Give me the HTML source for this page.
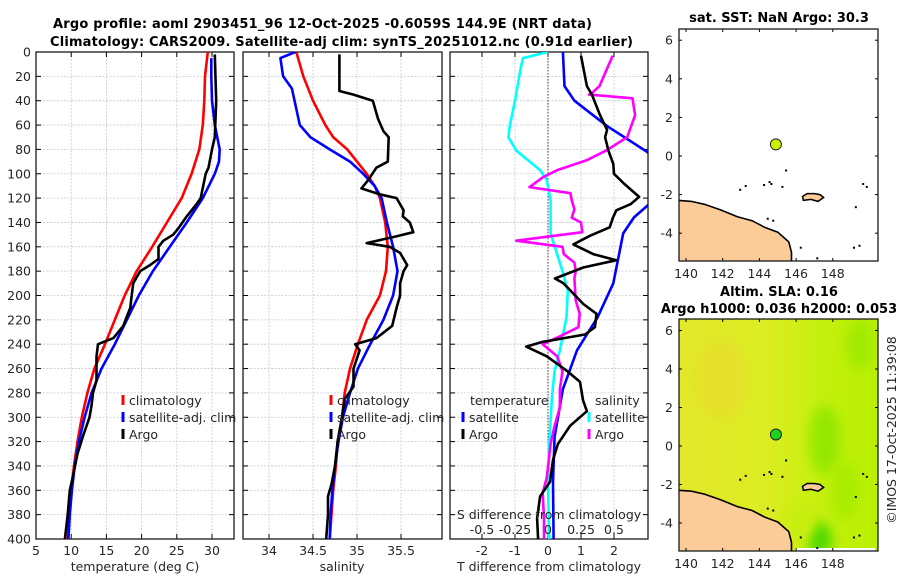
<!DOCTYPE html>
<html><head><meta charset="utf-8"><style>
body{margin:0;background:#fff;}
svg{display:block;font-family:"DejaVu Sans","Liberation Sans",sans-serif;}
.t{font-size:12.5px;fill:#262626;}
.b{font-weight:bold;font-size:13px;fill:#000;}
</style></head><body>
<svg id="fig" width="900" height="580" viewBox="0 0 900 580" xmlns="http://www.w3.org/2000/svg">
<defs>
<clipPath id="c1"><rect x="36" y="52" width="198" height="487"/></clipPath>
<clipPath id="c2"><rect x="243" y="52" width="199" height="487"/></clipPath>
<clipPath id="c3"><rect x="450" y="52" width="198" height="487"/></clipPath>
<clipPath id="cm1"><rect x="679" y="29" width="199" height="232"/></clipPath>
<clipPath id="cm2"><rect x="679" y="319" width="199" height="232"/></clipPath>
<filter id="blur" x="-50%" y="-50%" width="200%" height="200%"><feGaussianBlur stdDeviation="6"/></filter>
<linearGradient id="sla" x1="0" x2="1" y1="0" y2="0"><stop offset="0" stop-color="#e2e82a"/><stop offset="0.45" stop-color="#dcec22"/><stop offset="0.7" stop-color="#c6f00e"/><stop offset="1" stop-color="#b8f000"/></linearGradient>
</defs>
<g id="titles">
<text class="b" x="53" y="28" textLength="539" lengthAdjust="spacing">Argo profile: aoml 2903451_96 12-Oct-2025 -0.6059S 144.9E (NRT data)</text>
<text class="b" x="50" y="46" textLength="583" lengthAdjust="spacing">Climatology: CARS2009. Satellite-adj clim: synTS_20251012.nc (0.91d earlier)</text>
<text class="b" x="779" y="22" text-anchor="middle">sat. SST: NaN Argo: 30.3</text>
<text class="b" x="779" y="296" text-anchor="middle">Altim. SLA: 0.16</text>
<text class="b" x="779" y="313" text-anchor="middle">Argo h1000: 0.036 h2000: 0.053</text>
<text class="t" transform="translate(896,430) rotate(-90)" text-anchor="middle">©IMOS 17-Oct-2025 11:39:08</text>
</g>
<g id="axes"></g>
<g id="series"></g>
<g id="maps"></g>
</svg>
<script>
// ---- data ----
const depthTicks = [0,20,40,60,80,100,120,140,160,180,200,220,240,260,280,300,320,340,360,380,400];
const tempTicks = [5,10,15,20,25,30];
const salTicks = [34,34.5,35,35.5];
const tdiffTicks = [-2,-1,0,1,2];
const sdiffTicks = [-0.5,-0.25,0,0.25,0.5];
const sdiffTickLabels = ["-0.5","-0.25","0","0.25","0.5"];
const latTicks = [-4,-2,0,2,4,6];
const lonTicks = [140,142,144,146,148];

const climTdepth = [0,20,40,60,80,100,120,140,160,180,200,220,240,260,280,300,320,340,360,380,400];
const climT = [29.4,29.0,28.9,28.7,28.2,27.1,25.7,23.6,21.5,19.3,17.6,16.2,14.8,13.3,12.3,11.5,10.9,10.4,10.0,9.7,9.5];
const satTdepth = [5,20,40,60,80,90,100,120,140,160,180,200,220,240,260,280,300,320,340,360,380,400];
const satT = [29.9,29.9,30.0,30.4,31.1,31.0,30.4,28.7,26.4,24.0,21.6,19.6,17.9,16.2,14.3,12.9,11.9,11.1,10.5,10.1,9.8,9.6];
const argoTdepth = [2,40,70,80,95,100,120,125,135,145,150,155,160,170,175,180,190,200,210,225,235,240,250,270,280,290,300,315,330,350,360,380,400];
const argoT = [30.4,30.6,30.4,30.0,29.5,29.1,28.4,27.8,26.4,25.2,24.5,23.1,22.4,22.4,21.2,19.8,18.8,18.6,18.4,17.4,16.0,13.8,13.6,13.6,13.1,12.9,12.6,11.7,10.9,10.2,9.8,9.5,9.1];

const climSdepth = [0,20,40,60,70,80,90,100,110,120,140,160,180,200,220,240,260,280,300,320,340,360,380,400];
const climS = [34.31,34.39,34.5,34.64,34.73,34.89,35.0,35.11,35.2,35.26,35.32,35.35,35.33,35.26,35.11,35.01,34.92,34.86,34.83,34.78,34.76,34.73,34.71,34.69];
const satSdepth = [0,5,20,30,60,70,80,90,100,110,120,140,160,180,200,220,240,260,280,300,320,340,360,380,400];
const satS = [34.3,34.13,34.16,34.26,34.35,34.47,34.69,34.92,35.07,35.2,35.28,35.34,35.41,35.46,35.41,35.3,35.15,35.01,34.92,34.84,34.79,34.75,34.72,34.7,34.69];
const argoSdepth = [2,32,35,40,55,65,70,90,95,105,112,117,120,130,135,140,148,152,157,160,165,175,180,190,200,210,225,235,240,245,260,275,285,300,320,340,355,365,380,400];
const argoS = [34.8,34.8,34.96,35.18,35.24,35.3,35.36,35.35,35.22,35.13,35.05,35.26,35.45,35.53,35.52,35.6,35.64,35.41,35.11,35.37,35.49,35.57,35.53,35.49,35.49,35.45,35.4,35.22,34.98,35.03,34.96,34.96,34.86,34.83,34.78,34.75,34.71,34.67,34.67,34.65];

const dTsatDepth = [0,28,40,61,82,95,110,125,136,149,190,218,245,277,316,353,400];
const dTsat = [0.45,0.5,0.8,1.8,3.0,3.5,3.5,3.06,2.6,2.28,1.98,1.5,0.88,0.45,0.2,0.15,0.17];
const dTargoDepth = [3,28,35,52,64,70,81,92,100,108,119,125,130,136,144,151,158,166,171,177,186,190,207,215,226,232,238,242,250,262,271,286,295,307,322,335,353,365,383,400];
const dTargo = [1.0,1.18,1.33,1.58,1.79,1.73,1.83,1.98,2.0,2.3,2.76,2.5,2.07,1.97,1.87,1.27,0.77,1.37,2.07,1.07,0.21,0.47,1.07,1.47,1.42,1.12,-0.15,-0.66,-0.03,0.58,0.97,1.06,1.18,0.67,0.3,0.15,0.06,-0.24,-0.33,-0.3];
const dSsatDepth = [0,5,15,40,61,70,81,97,105,122,149,163,180,196,218,245,262,283,320,357,400];
const dSsat = [0,-0.19,-0.21,-0.25,-0.29,-0.3,-0.24,-0.06,-0.01,0.02,0.02,0.06,0.11,0.15,0.14,0.09,0.05,0.03,0.01,0,0.01];
const dSargoDepth = [3,28,34,35,38,52,64,70,81,89,97,103,111,116,122,129,136,140,148,155,160,166,173,180,186,204,215,226,234,240,250,262,277,292,307,322,350,362,383,400];
const dSargo = [0.49,0.39,0.33,0.31,0.64,0.66,0.62,0.6,0.44,0.29,0.07,-0.04,-0.14,0.17,0.18,0.2,0.18,0.25,0.26,-0.24,0.11,0.12,0.2,0.21,0.2,0.21,0.24,0.23,0.08,-0.04,0.07,0.11,0.09,0.09,0.05,0.02,-0.01,-0.04,-0.03,-0.03];

const argoLon = [144.9];
const argoLat = [0.6];

// ---- scales ----
const NS='http://www.w3.org/2000/svg';
const Y0=52, YPX=1.2175;
const yD = d => Y0 + d*YPX;
const xT = t => 36 + (t-5)*7.04;
const xS = s => 269 + (s-34)*88;
const xDT = t => 548 + t*33;
const xDS = s => 548 + s*132;
const xLon = l => 686 + (l-140)*18.35;
const yLat1 = a => 156 - a*19.3;
const yLat2 = a => 446 - a*19.25;

function el(tag, attrs, parent){const e=document.createElementNS(NS,tag);for(const k in attrs)e.setAttribute(k,attrs[k]);parent.appendChild(e);return e;}
const axes=document.getElementById('axes'), series=document.getElementById('series'), maps=document.getElementById('maps');

function panel(name,x0,x1,xt,xf,labels,showY){
  const g=el('g',{},axes);
  
  
  depthTicks.forEach(d=>{const y=yD(d);
    const gl=el('line',{x1:x0,x2:x1,y1:y,y2:y,stroke:'#c4c8dc','stroke-width':0.8,'stroke-dasharray':'2,1.5'},g);
    
    
    el('line',{x1:x0,x2:x0+5,y1:y,y2:y,stroke:'#000'},g);
    el('line',{x1:x1-5,x2:x1,y1:y,y2:y,stroke:'#000'},g);
    if(showY){const t=el('text',{x:x0-5,y:y+4.5,'text-anchor':'end',class:'t'},g);t.textContent=d;
      
      }
  });
  xt.forEach((v,i)=>{const x=xf(v);
    const gl=el('line',{x1:x,x2:x,y1:52,y2:539,stroke:'#c4c8dc','stroke-width':0.8,'stroke-dasharray':'2,1.5'},g);
    
    
    el('line',{x1:x,x2:x,y1:539,y2:534,stroke:'#000'},g);
    el('line',{x1:x,x2:x,y1:52,y2:57,stroke:'#000'},g);
    const t=el('text',{x:x,y:555,'text-anchor':'middle',class:'t'},g);t.textContent=labels?labels[i]:v;
    
    
  });
  const r=el('rect',{x:x0,y:52,width:x1-x0,height:487,fill:'none',stroke:'#1a1a1a','stroke-width':1.3},g);
  
  
}
panel('temperature-panel',36,234,tempTicks,xT,null,true);
panel('salinity-panel',243,442,salTicks,xS,null,false);
panel('difference-panel',450,648,tdiffTicks,xDT,null,false);

const zl=el('line',{x1:xDT(0),x2:xDT(0),y1:52,y2:539,stroke:'#444','stroke-width':1,'stroke-dasharray':'1.5,1.5'},axes);



function txt(s,x,y,anchor,name,parent,cls){const t=el('text',{x:x,y:y,'text-anchor':anchor||'start',class:cls||'t'},parent||axes);t.textContent=s;
  
  return t;}
txt('temperature (deg C)',135,571,'middle','x-axis-title-temperature');
txt('salinity',342,571,'middle','x-axis-title-salinity');
txt('T difference from climatology',549,571,'middle','x-axis-title-t-difference');

function line(xs,ds,xf,color,clip,name){
  const pts=xs.map((v,i)=>xf(v).toFixed(1)+','+yD(ds[i]).toFixed(1)).join(' ');
  const p=el('polyline',{points:pts,fill:'none',stroke:color,'stroke-width':2.6,'stroke-linejoin':'round','clip-path':'url(#'+clip+')'},series);
  
  
}
line(climT,climTdepth,xT,'#ff0000','c1','temp-climatology-line');
line(satT,satTdepth,xT,'#0000ff','c1','temp-satellite-line');
line(argoT,argoTdepth,xT,'#000','c1','temp-argo-line');
line(climS,climSdepth,xS,'#ff0000','c2','sal-climatology-line');
line(satS,satSdepth,xS,'#0000ff','c2','sal-satellite-line');
line(argoS,argoSdepth,xS,'#000','c2','sal-argo-line');
line(dSsat,dSsatDepth,xDS,'#00ffff','c3','sdiff-satellite-line');
line(dTsat,dTsatDepth,xDT,'#0000ff','c3','tdiff-satellite-line');
line(dSargo,dSargoDepth,xDS,'#ff00ff','c3','sdiff-argo-line');
line(dTargo,dTargoDepth,xDT,'#000','c3','tdiff-argo-line');

txt('S difference from climatology',549,519,'middle','s-difference-axis-title',series);
sdiffTicks.forEach((v,i)=>txt(sdiffTickLabels[i],xDS(v),534,'middle','s-diff-tick-label',series));

function legItem(x,y,color,label,name){
  const m=el('line',{x1:x,x2:x,y1:y-10,y2:y,stroke:color,'stroke-width':3},series);
  
  
  txt(label,x+6,y,'start',name,series);
}
legItem(123,405,'#ff0000','climatology','legend-climatology');
legItem(123,422,'#0000ff','satellite-adj. clim','legend-satellite-adj');
legItem(123,439,'#000','Argo','legend-argo');
legItem(331,405,'#ff0000','climatology','legend2-climatology');
legItem(331,422,'#0000ff','satellite-adj. clim','legend2-satellite-adj');
legItem(331,439,'#000','Argo','legend2-argo');
txt('temperature',470,405,'start','legend-temperature-header',series);
legItem(463,422,'#0000ff','satellite','legend-t-satellite');
legItem(463,439,'#000','Argo','legend-t-argo');
txt('salinity',595,405,'start','legend-salinity-header',series);
legItem(589,422,'#00ffff','satellite','legend-s-satellite');
legItem(589,439,'#ff00ff','Argo','legend-s-argo');

// ---- maps ----
function coast(yl,clip,g){
  const land=[[139.6,-2.3],[140.3,-2.35],[141,-2.5],[141.9,-2.8],[142.8,-3.15],[143.6,-3.35],[144.3,-3.7],[145.0,-3.95],[145.6,-4.45],[145.75,-5.0],[145.75,-5.5],[139.6,-5.5]];
  const pts=land.map(p=>xLon(p[0]).toFixed(1)+','+yl(p[1]).toFixed(1)).join(' ');
  const lp=el('polygon',{points:pts,fill:'#fbcb98',stroke:'#000','stroke-width':1.6,'clip-path':'url(#'+clip+')'},g);
  
  
  const isl=[[146.35,-2.1],[146.6,-1.95],[147.0,-1.95],[147.3,-2.0],[147.5,-2.15],[147.2,-2.35],[146.8,-2.25],[146.4,-2.3]];
  const ip=el('polygon',{points:isl.map(p=>xLon(p[0]).toFixed(1)+','+yl(p[1]).toFixed(1)).join(' '),fill:'#fbcb98',stroke:'#000','stroke-width':1.5},g);
  
  
  [[142.9,-1.7],[143.2,-1.5],[144.2,-1.45],[144.5,-1.3],[144.6,-1.4],[145.2,-1.55],[145.4,-0.7],[149.6,-1.4],[149.8,-1.55],[149.2,-2.6],[149.1,-4.7],[149.4,-4.6],[146.2,-4.7],[147.1,-5.25],[144.4,-3.2],[144.7,-3.3]].forEach(p=>{
    const d=el('rect',{x:xLon(p[0]),y:yl(p[1]),width:2,height:2,fill:'#000','clip-path':'url(#'+clip+')'},g);
    
    
  });
}
function mapAxes(top,bot,yl,g,name){
  latTicks.forEach(a=>{const y=yl(a);
    el('line',{x1:679,x2:682,y1:y,y2:y,stroke:'#000'},g);el('line',{x1:875,x2:878,y1:y,y2:y,stroke:'#000'},g);
    txt(String(a),673,y+4.5,'end',name+'-lat-label',g);});
  lonTicks.forEach(l=>{const x=xLon(l);
    el('line',{x1:x,x2:x,y1:bot,y2:bot-3,stroke:'#000'},g);el('line',{x1:x,x2:x,y1:top,y2:top+3,stroke:'#000'},g);
    txt(String(l),x,bot+17,'middle',name+'-lon-label',g);});
  const r=el('rect',{x:679,y:top,width:199,height:bot-top,fill:'none',stroke:'#1a1a1a','stroke-width':1.3},g);
  
  
}
const g1=el('g',{},maps);


coast(yLat1,'cm1',g1);
argoLon.forEach((lo,i)=>{const c=el('circle',{cx:xLon(lo),cy:yLat1(argoLat[i]),r:5.5,fill:'#c8f000',stroke:'#222','stroke-width':1},g1);
  
  });
mapAxes(29,261,yLat1,g1,'sst-map');

const g2=el('g',{},maps);


const hg=el('g',{'clip-path':'url(#cm2)'},g2);
const bg=el('rect',{x:679,y:319,width:199,height:232,fill:'url(#sla)'},hg);


[[720,380,25,40,'#e6e02c'],[825,440,16,35,'#94e800'],[860,345,14,25,'#a0ea00'],[845,490,15,30,'#aaec00'],[820,540,12,18,'#50d800'],[800,520,14,20,'#c8ee10']].forEach(b=>{
  const e=el('ellipse',{cx:b[0],cy:b[1],rx:b[2],ry:b[3],fill:b[4],filter:'url(#blur)'},hg);
  
  
});
el('rect',{x:795,y:548,width:80,height:3,fill:'#fff'},hg);
coast(yLat2,'cm2',g2);
argoLon.forEach((lo,i)=>{const c=el('circle',{cx:xLon(lo),cy:yLat2(argoLat[i]),r:5.5,fill:'#1ed21e',stroke:'#222','stroke-width':1},g2);
  
  });
mapAxes(319,551,yLat2,g2,'sla-map');
</script>
</body></html>
